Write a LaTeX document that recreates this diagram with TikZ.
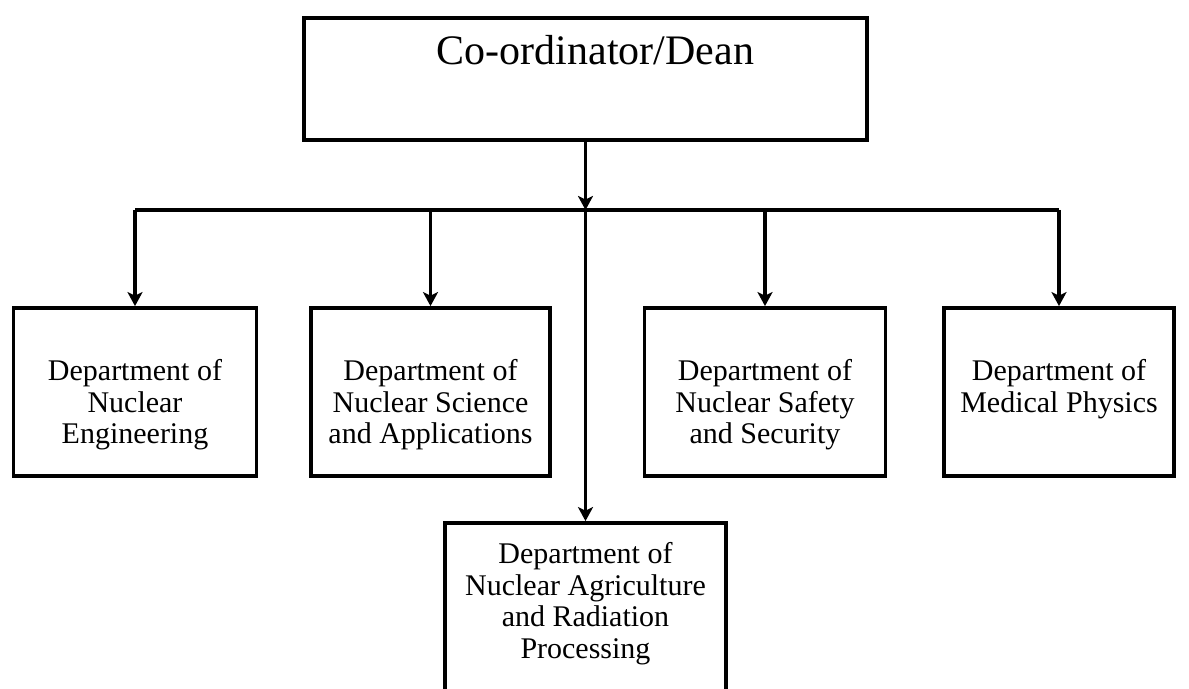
\documentclass[tikz,border=0pt]{standalone}
\usepackage{fontspec}
\setmainfont{Liberation Serif}
\usetikzlibrary{arrows.meta}

\tikzset{
	box/.style={draw, line width=1.9pt, inner sep=0pt},
	depttext/.style={align=center, anchor=north, inner sep=0pt, font=\fontsize{15}{15.8}\selectfont},
	arr/.style={line width=1.7pt, -{Stealth[length=7pt,width=7.5pt,inset=1.8pt]}},
	trunk/.style={line width=1.7pt}
}

\begin{document}
\begin{tikzpicture}[x=0.5pt,y=-0.5pt]
		% Page frame
		\clip (0,0) rectangle (1189,689);
		
		% Co-ordinator box
		\node[box, minimum width=281.5pt, minimum height=61pt] (dean) at (585.5,79) {};
		\node[font=\fontsize{21}{25}\selectfont, anchor=base, inner sep=0pt] (deantxt) at (595.5,65) {Co-ordinator/Dean};
		
		% Department boxes
		\node[box, minimum width=121.5pt, minimum height=84pt] (eng) at (135,392) {};
		\node[box, minimum width=119.5pt, minimum height=84pt] (sci) at (430.5,392) {};
		\node[box, minimum width=120.5pt, minimum height=84pt] (saf) at (765,392) {};
		\node[box, minimum width=115pt, minimum height=84pt] (med) at (1059,392) {};
		\node[box, minimum width=140.5pt, minimum height=98.5pt] (agr) at (585.5,621.5) {};
		
		% Department names
		\node[depttext] (engtxt) at (135,359) {Department of\\Nuclear\\Engineering};
		\node[depttext] (scitxt) at (430.5,359) {Department of\\Nuclear Science\\and Applications};
		\node[depttext] (saftxt) at (765,359) {Department of\\Nuclear Safety\\and Security};
		\node[depttext] (medtxt) at (1059,359) {Department of\\Medical Physics};
		\node[depttext] (agrtxt) at (585.5,542) {Department of\\Nuclear Agriculture\\and Radiation\\Processing};
		
		% Connectors
		\coordinate (bus) at (585.5,210);
		\draw[arr] (dean.south) -- (bus);
		\draw[trunk] (eng.north |- bus) -- (med.north |- bus);
		\foreach \d in {eng,sci,saf,med}
			\draw[arr] (\d.north |- bus) -- (\d.north);
		\draw[arr] (bus) -- (agr.north);
	\end{tikzpicture}
\end{document}
